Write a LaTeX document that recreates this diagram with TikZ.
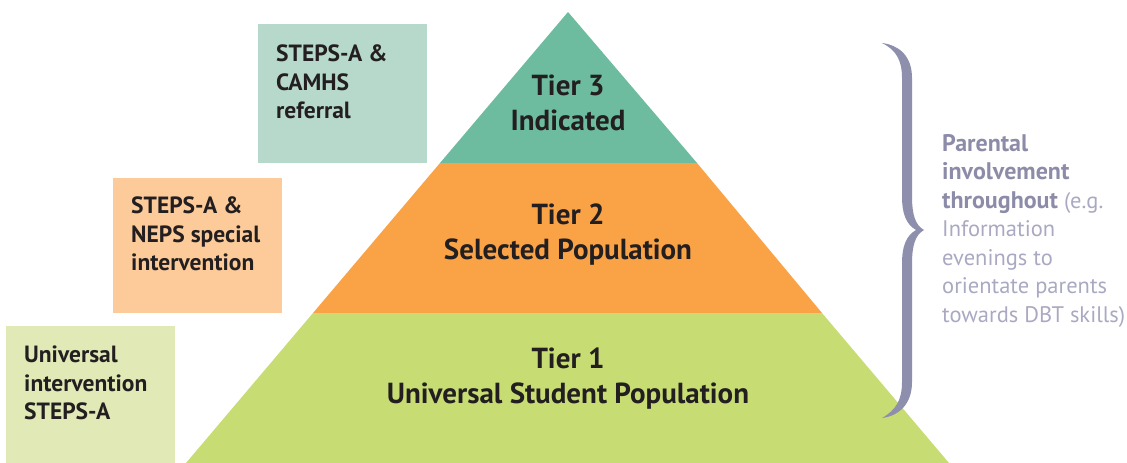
\documentclass[tikz,border=0pt]{standalone}
\usepackage{fontspec}
\setmainfont{PT Sans}
\usetikzlibrary{positioning}

\definecolor{tierthree}{HTML}{6DBCA0}
\definecolor{tiertwo}{HTML}{F9A346}
\definecolor{tierone}{HTML}{C8DC74}
\definecolor{boxthree}{HTML}{B6D9CB}
\definecolor{boxtwo}{HTML}{FDCB9A}
\definecolor{boxone}{HTML}{E1EAB6}
\definecolor{darktext}{HTML}{231F20}
\definecolor{bracecol}{HTML}{8E8EAD}
\definecolor{notebold}{HTML}{8C8CA9}
\definecolor{notelight}{HTML}{A9A9C1}

\begin{document}
\begin{tikzpicture}[x=1pt,y=-1pt,
  tierlabel/.style={align=center,text=darktext,font=\bfseries\fontsize{29}{35}\selectfont},
  sidebox/.style={anchor=north west,minimum width=169pt,inner sep=0pt},
  sidetext/.style={anchor=north west,align=left,inner sep=0pt,text=darktext,font=\bfseries\fontsize{23.5}{28.5}\selectfont}]
\useasboundingbox (0,0) rectangle (1127,463);

\coordinate (apex) at (568,12);
\coordinate (l3) at (440,163);
\coordinate (r3) at (697,163);
\coordinate (l2) at (313,313);
\coordinate (r2) at (822,313);
\coordinate (l1) at (186,463);
\coordinate (r1) at (949,463);

\fill[tierthree] (apex)--(r3)--(l3)--cycle;
\fill[tiertwo] (l3)--(r3)--(r2)--(l2)--cycle;
\fill[tierone] (l2)--(r2)--(r1)--(l1)--cycle;

\node[tierlabel] (tier3) at (568,103) {Tier 3\\Indicated};
\node[tierlabel] (tier2) at (568,235) {Tier 2\\Selected Population};
\node[tierlabel] (tier1) at (568,379) {Tier 1\\Universal Student Population};

\node[sidebox,fill=boxthree,minimum height=139pt] (box3) at (258,24) {};
\node[sidebox,fill=boxtwo,minimum height=135pt] (box2) at (113,178) {};
\node[sidebox,fill=boxone,minimum height=137pt] (box1) at (6,326) {};

\node[sidetext] (text3) at (276,45) {STEPS-A \&\\CAMHS\\referral};
\node[sidetext] (text2) at (131,197) {STEPS-A \&\\NEPS special\\intervention};
\node[sidetext] (text1) at (24,346) {Universal\\intervention\\STEPS-A};

% brace
\fill[bracecol] (882,43) .. controls (898,45) and (912,55) .. (912,78)
  -- (912,196) .. controls (912,214) and (915,225) .. (924,230)
  .. controls (915,235) and (912,246) .. (912,264)
  -- (912,382) .. controls (912,405) and (898,416) .. (882,418)
  .. controls (896,410) and (902,400) .. (902,382)
  -- (902,264) .. controls (902,246) and (906,236) .. (916,230)
  .. controls (906,224) and (902,214) .. (902,196)
  -- (902,78) .. controls (902,60) and (896,50) .. (882,43) -- cycle;

\node[anchor=north west,align=left,inner sep=0pt,text=notelight,
  font=\fontsize{22.5}{28.5}\selectfont] (note) at (942,134)
  {\textbf{\textcolor{notebold}{\fontsize{24}{28.5}\selectfont Parental}}\\
   \textbf{\textcolor{notebold}{\fontsize{24}{28.5}\selectfont involvement}}\\
   \textbf{\textcolor{notebold}{\fontsize{24}{28.5}\selectfont throughout}} (e.g.\\
   Information\\
   evenings to\\
   orientate parents\\
   towards DBT skills)};
\end{tikzpicture}
\end{document}
